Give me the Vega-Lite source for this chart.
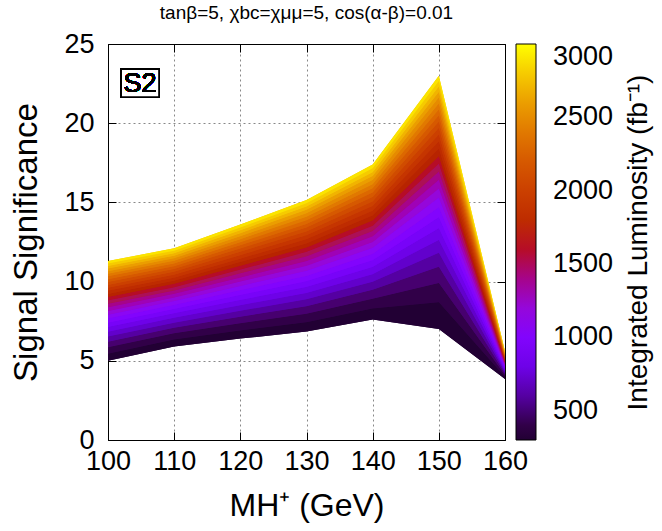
{
  "$schema": "https://vega.github.io/schema/vega-lite/v6.json",
  "width": 397,
  "height": 396,
  "autosize": "none",
  "padding": {"left": 108, "top": 44, "right": 157, "bottom": 91},
  "background": "white",
  "config": {
    "font": "Liberation Sans",
    "view": {"stroke": "black", "strokeWidth": 1},
    "axis": {"zindex": 1}
  },
  "title": {"text": "tanβ=5, χbc=χμμ=5, cos(α-β)=0.01", "fontSize": 19, "fontWeight": "normal", "offset": 7, "anchor": "middle", "color": "black"},
  "data": {"values": [
    {"m":100,"L":300,"s":5.00},{"m":100,"L":400,"s":5.45},{"m":100,"L":500,"s":5.85},{"m":100,"L":600,"s":6.21},{"m":100,"L":700,"s":6.54},{"m":100,"L":800,"s":6.84},{"m":100,"L":900,"s":7.13},{"m":100,"L":1000,"s":7.41},{"m":100,"L":1100,"s":7.67},{"m":100,"L":1200,"s":7.91},{"m":100,"L":1300,"s":8.15},{"m":100,"L":1400,"s":8.38},{"m":100,"L":1500,"s":8.60},{"m":100,"L":1600,"s":8.82},{"m":100,"L":1700,"s":9.02},{"m":100,"L":1800,"s":9.22},{"m":100,"L":1900,"s":9.42},{"m":100,"L":2000,"s":9.61},{"m":100,"L":2100,"s":9.79},{"m":100,"L":2200,"s":9.98},{"m":100,"L":2300,"s":10.15},{"m":100,"L":2400,"s":10.33},{"m":100,"L":2500,"s":10.50},{"m":100,"L":2600,"s":10.66},{"m":100,"L":2700,"s":10.83},{"m":100,"L":2800,"s":10.99},{"m":100,"L":2900,"s":11.15},{"m":100,"L":3000,"s":11.30},
    {"m":110,"L":300,"s":5.90},{"m":110,"L":400,"s":6.34},{"m":110,"L":500,"s":6.74},{"m":110,"L":600,"s":7.09},{"m":110,"L":700,"s":7.41},{"m":110,"L":800,"s":7.71},{"m":110,"L":900,"s":8.00},{"m":110,"L":1000,"s":8.27},{"m":110,"L":1100,"s":8.52},{"m":110,"L":1200,"s":8.77},{"m":110,"L":1300,"s":9.00},{"m":110,"L":1400,"s":9.23},{"m":110,"L":1500,"s":9.44},{"m":110,"L":1600,"s":9.65},{"m":110,"L":1700,"s":9.86},{"m":110,"L":1800,"s":10.06},{"m":110,"L":1900,"s":10.25},{"m":110,"L":2000,"s":10.44},{"m":110,"L":2100,"s":10.62},{"m":110,"L":2200,"s":10.80},{"m":110,"L":2300,"s":10.97},{"m":110,"L":2400,"s":11.14},{"m":110,"L":2500,"s":11.31},{"m":110,"L":2600,"s":11.47},{"m":110,"L":2700,"s":11.63},{"m":110,"L":2800,"s":11.79},{"m":110,"L":2900,"s":11.95},{"m":110,"L":3000,"s":12.10},
    {"m":120,"L":300,"s":6.40},{"m":120,"L":400,"s":6.91},{"m":120,"L":500,"s":7.37},{"m":120,"L":600,"s":7.78},{"m":120,"L":700,"s":8.16},{"m":120,"L":800,"s":8.51},{"m":120,"L":900,"s":8.84},{"m":120,"L":1000,"s":9.15},{"m":120,"L":1100,"s":9.45},{"m":120,"L":1200,"s":9.73},{"m":120,"L":1300,"s":10.00},{"m":120,"L":1400,"s":10.26},{"m":120,"L":1500,"s":10.52},{"m":120,"L":1600,"s":10.76},{"m":120,"L":1700,"s":11.00},{"m":120,"L":1800,"s":11.23},{"m":120,"L":1900,"s":11.45},{"m":120,"L":2000,"s":11.67},{"m":120,"L":2100,"s":11.88},{"m":120,"L":2200,"s":12.09},{"m":120,"L":2300,"s":12.29},{"m":120,"L":2400,"s":12.49},{"m":120,"L":2500,"s":12.68},{"m":120,"L":2600,"s":12.87},{"m":120,"L":2700,"s":13.06},{"m":120,"L":2800,"s":13.24},{"m":120,"L":2900,"s":13.42},{"m":120,"L":3000,"s":13.60},
    {"m":130,"L":300,"s":6.85},{"m":130,"L":400,"s":7.44},{"m":130,"L":500,"s":7.97},{"m":130,"L":600,"s":8.44},{"m":130,"L":700,"s":8.88},{"m":130,"L":800,"s":9.28},{"m":130,"L":900,"s":9.66},{"m":130,"L":1000,"s":10.02},{"m":130,"L":1100,"s":10.36},{"m":130,"L":1200,"s":10.69},{"m":130,"L":1300,"s":11.00},{"m":130,"L":1400,"s":11.30},{"m":130,"L":1500,"s":11.60},{"m":130,"L":1600,"s":11.88},{"m":130,"L":1700,"s":12.15},{"m":130,"L":1800,"s":12.41},{"m":130,"L":1900,"s":12.67},{"m":130,"L":2000,"s":12.92},{"m":130,"L":2100,"s":13.17},{"m":130,"L":2200,"s":13.41},{"m":130,"L":2300,"s":13.64},{"m":130,"L":2400,"s":13.87},{"m":130,"L":2500,"s":14.09},{"m":130,"L":2600,"s":14.31},{"m":130,"L":2700,"s":14.53},{"m":130,"L":2800,"s":14.74},{"m":130,"L":2900,"s":14.95},{"m":130,"L":3000,"s":15.15},
    {"m":140,"L":300,"s":7.60},{"m":140,"L":400,"s":8.30},{"m":140,"L":500,"s":8.92},{"m":140,"L":600,"s":9.48},{"m":140,"L":700,"s":9.99},{"m":140,"L":800,"s":10.47},{"m":140,"L":900,"s":10.92},{"m":140,"L":1000,"s":11.34},{"m":140,"L":1100,"s":11.75},{"m":140,"L":1200,"s":12.13},{"m":140,"L":1300,"s":12.50},{"m":140,"L":1400,"s":12.86},{"m":140,"L":1500,"s":13.20},{"m":140,"L":1600,"s":13.53},{"m":140,"L":1700,"s":13.86},{"m":140,"L":1800,"s":14.17},{"m":140,"L":1900,"s":14.47},{"m":140,"L":2000,"s":14.77},{"m":140,"L":2100,"s":15.06},{"m":140,"L":2200,"s":15.34},{"m":140,"L":2300,"s":15.62},{"m":140,"L":2400,"s":15.89},{"m":140,"L":2500,"s":16.15},{"m":140,"L":2600,"s":16.41},{"m":140,"L":2700,"s":16.66},{"m":140,"L":2800,"s":16.91},{"m":140,"L":2900,"s":17.16},{"m":140,"L":3000,"s":17.40},
    {"m":150,"L":300,"s":7.00},{"m":150,"L":400,"s":8.70},{"m":150,"L":500,"s":9.91},{"m":150,"L":600,"s":10.93},{"m":150,"L":700,"s":11.82},{"m":150,"L":800,"s":12.63},{"m":150,"L":900,"s":13.37},{"m":150,"L":1000,"s":14.06},{"m":150,"L":1100,"s":14.70},{"m":150,"L":1200,"s":15.31},{"m":150,"L":1300,"s":15.88},{"m":150,"L":1400,"s":16.43},{"m":150,"L":1500,"s":16.95},{"m":150,"L":1600,"s":17.45},{"m":150,"L":1700,"s":17.92},{"m":150,"L":1800,"s":18.39},{"m":150,"L":1900,"s":18.84},{"m":150,"L":2000,"s":19.27},{"m":150,"L":2100,"s":19.69},{"m":150,"L":2200,"s":20.09},{"m":150,"L":2300,"s":20.49},{"m":150,"L":2400,"s":20.87},{"m":150,"L":2500,"s":21.25},{"m":150,"L":2600,"s":21.62},{"m":150,"L":2700,"s":21.97},{"m":150,"L":2800,"s":22.32},{"m":150,"L":2900,"s":22.66},{"m":150,"L":3000,"s":23.00},
    {"m":160,"L":300,"s":3.85},{"m":160,"L":400,"s":3.98},{"m":160,"L":500,"s":4.09},{"m":160,"L":600,"s":4.19},{"m":160,"L":700,"s":4.28},{"m":160,"L":800,"s":4.36},{"m":160,"L":900,"s":4.44},{"m":160,"L":1000,"s":4.52},{"m":160,"L":1100,"s":4.59},{"m":160,"L":1200,"s":4.66},{"m":160,"L":1300,"s":4.73},{"m":160,"L":1400,"s":4.79},{"m":160,"L":1500,"s":4.85},{"m":160,"L":1600,"s":4.91},{"m":160,"L":1700,"s":4.97},{"m":160,"L":1800,"s":5.02},{"m":160,"L":1900,"s":5.08},{"m":160,"L":2000,"s":5.13},{"m":160,"L":2100,"s":5.18},{"m":160,"L":2200,"s":5.23},{"m":160,"L":2300,"s":5.28},{"m":160,"L":2400,"s":5.33},{"m":160,"L":2500,"s":5.38},{"m":160,"L":2600,"s":5.42},{"m":160,"L":2700,"s":5.47},{"m":160,"L":2800,"s":5.51},{"m":160,"L":2900,"s":5.56},{"m":160,"L":3000,"s":5.60}
  ]},
  "transform": [
    {"window": [{"op": "lead", "field": "s", "as": "s_next"}, {"op": "lead", "field": "s", "param": 2, "as": "s_next2"}], "groupby": ["m"], "sort": [{"field": "L"}]},
    {"filter": {"field": "s_next", "valid": true}}
  ],
  "resolve": {"axis": {"x": "independent", "y": "independent"}},
  "layer": [
    {
      "transform": [{"filter": {"field": "s_next2", "valid": true}}],
      "mark": {"type": "area", "interpolate": "linear"},
      "encoding": {
        "x": {"field": "m", "type": "quantitative", "scale": {"domain": [100, 160], "nice": false},
          "axis": {"title": "MH⁺ (GeV)", "values": [100,110,120,130,140,150,160], "labelFontSize": 27, "titleFontSize": 32, "titleFontWeight": "normal", "labelColor": "black", "titleColor": "black", "tickSize": -8, "tickColor": "black", "labelPadding": 16, "titlePadding": 16, "domainColor": "black", "grid": true, "gridDash": [2, 3], "gridColor": "#888888", "labelFlush": false}},
        "y": {"field": "s", "type": "quantitative", "scale": {"domain": [0, 25], "nice": false},
          "axis": {"title": "Signal Significance", "values": [0,5,10,15,20,25], "labelFontSize": 27, "titleFontSize": 33, "titleFontWeight": "normal", "labelColor": "black", "titleColor": "black", "tickSize": -8, "tickColor": "black", "labelPadding": 22, "titlePadding": 20, "domainColor": "black", "grid": true, "gridDash": [2, 3], "gridColor": "#888888", "labelFlush": false}},
        "y2": {"field": "s_next2"},
        "color": {"field": "L", "type": "quantitative",
          "scale": {"domain": [300,435,570,705,840,975,1110,1245,1380,1515,1650,1785,1920,2055,2190,2325,2460,2595,2730,2865,3000],
                    "range": ["#000000","#39004F","#510096","#6301CE","#7202F3","#8004FF","#8C07F3","#970BCE","#A11096","#AB174F","#B42000","#BD2A00","#C63700","#CE4600","#D55700","#DD6C00","#E48300","#EB9D00","#F2BA00","#F9DB00","#FFFF00"]},
          "legend": {"type": "gradient", "title": null, "values": [500,1000,1500,2000,2500,3000], "format": "d", "orient": "right", "offset": -137, "padding": 0,
            "gradientLength": 396, "gradientThickness": 20, "gradientStrokeColor": "black", "gradientStrokeWidth": 1,
            "labelFontSize": 27, "labelColor": "black", "labelOffset": 17, "labelBaseline": "middle"}}
      }
    },
    {
      "mark": {"type": "area", "interpolate": "linear"},
      "encoding": {
        "x": {"field": "m", "type": "quantitative", "axis": null},
        "y": {"field": "s", "type": "quantitative", "axis": null},
        "y2": {"field": "s_next"},
        "color": {"field": "L", "type": "quantitative"}
      }
    },
    {
      "mark": {"type": "rect", "fill": "white", "stroke": "black", "strokeWidth": 1.5},
      "encoding": {
        "x": {"datum": 102.0, "type": "quantitative", "axis": {"orient": "top", "labels": false, "title": null, "grid": false, "tickSize": -8, "tickColor": "black", "domainColor": "black", "values": [100,110,120,130,140,150,160]}},
        "x2": {"datum": 107.7},
        "y": {"datum": 23.4, "type": "quantitative", "axis": {"orient": "right", "labels": false, "title": "Integrated Luminosity (fb⁻¹)", "titleAngle": 270, "titleFontSize": 28, "titleFontWeight": "normal", "titleColor": "black", "titlePadding": 147, "titleBaseline": "bottom", "grid": false, "tickSize": -8, "tickColor": "black", "domainColor": "black", "values": [0,5,10,15,20,25]}},
        "y2": {"datum": 21.65}
      }
    },
    {
      "mark": {"type": "text", "fontSize": 27, "color": "black", "align": "center", "baseline": "middle"},
      "encoding": {
        "x": {"datum": 104.85, "type": "quantitative", "axis": null},
        "y": {"datum": 22.5, "type": "quantitative", "axis": null},
        "text": {"value": "S2"}
      }
    }
  ]
}
